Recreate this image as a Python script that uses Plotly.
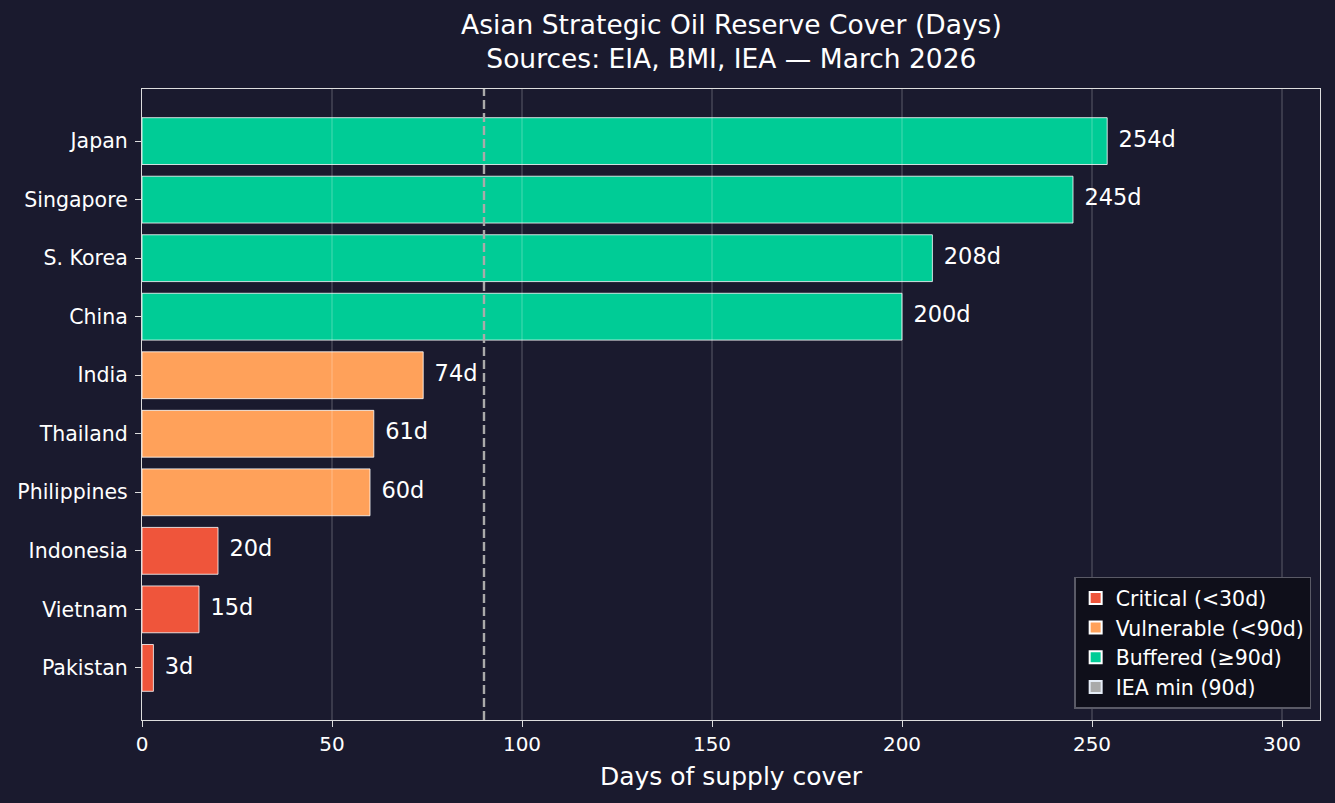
import plotly.graph_objects as go

countries = ["Japan", "Singapore", "S. Korea", "China", "India", "Thailand",
             "Philippines", "Indonesia", "Vietnam", "Pakistan"]
days = [254, 245, 208, 200, 74, 61, 60, 20, 15, 3]
iea_min = 90
x_ticks = [0, 50, 100, 150, 200, 250, 300]

groups = [
    ("Critical (<30d)", "#EF553B", lambda d: d < 30),
    ("Vulnerable (<90d)", "#FFA15A", lambda d: 30 <= d < 90),
    ("Buffered (≥90d)", "#00CC96", lambda d: d >= 90),
]

BG = "#1a1a2e"
FONT = "DejaVu Sans"

fig = go.Figure()
for name, color, cond in groups:
    ys = [c for c, d in zip(countries, days) if cond(d)]
    xs = [d for d in days if cond(d)]
    fig.add_trace(go.Bar(
        x=xs, y=ys, orientation="h", name=name, width=0.8,
        marker=dict(color=color, line=dict(color="white", width=0.8)),
        hoverinfo="x+y",
    ))

# legend-only entry for the IEA minimum line
fig.add_trace(go.Bar(
    x=[None], y=[None], orientation="h", name=f"IEA min ({iea_min}d)",
    marker=dict(color="#aaaaaa"),
))

# value labels
fig.add_trace(go.Scatter(
    x=[d + 3 for d in days], y=countries, mode="text",
    text=[f"{d}d" for d in days], textposition="middle right",
    textfont=dict(color="white", size=22.5, family=FONT),
    showlegend=False, hoverinfo="skip", cliponaxis=False,
))

# gridlines drawn above the bars (as in the reference)
for t in x_ticks[1:]:
    fig.add_shape(type="line", xref="x", yref="paper", x0=t, x1=t, y0=0, y1=1,
                  line=dict(color="rgba(255,255,255,0.22)", width=1.3), layer="above")

# IEA minimum dashed line
fig.add_shape(type="line", xref="x", yref="paper", x0=iea_min, x1=iea_min, y0=0, y1=1,
              line=dict(color="#aaaaaa", width=2.4, dash="9px,4px"), layer="above")

# title as annotation above the plot
fig.add_annotation(
    text="Asian Strategic Oil Reserve Cover (Days)<br>Sources: EIA, BMI, IEA — March 2026",
    xref="paper", yref="paper", x=0.5, y=1.0753, xanchor="center", yanchor="middle",
    showarrow=False, font=dict(size=26.5, color="white", family=FONT),
)

fig.update_layout(
    width=1335, height=803,
    paper_bgcolor=BG, plot_bgcolor=BG,
    margin=dict(l=142, r=15, t=89, b=83),
    barmode="overlay",
    font=dict(family=FONT, color="white", size=20.5),
    xaxis=dict(
        range=[0, 310], tickvals=x_ticks, ticktext=[str(t) for t in x_ticks],
        showgrid=False, zeroline=False,
        showline=True, mirror=True, linecolor="#dddddd", linewidth=1.3,
        ticks="outside", ticklen=6, tickcolor="#dddddd", tickwidth=1.3,
        tickfont=dict(size=20, color="white"),
        title=dict(text="Days of supply cover", font=dict(size=25, color="white"), standoff=12),
    ),
    yaxis=dict(
        categoryorder="array", categoryarray=countries,
        range=[9.89, -0.89], showgrid=False, zeroline=False,
        showline=True, mirror=True, linecolor="#dddddd", linewidth=1.3,
        ticks="outside", ticklen=6, tickcolor="#dddddd", tickwidth=1.3,
        ticklabelstandoff=3,
        tickfont=dict(size=20.5, color="white"),
    ),
    legend=dict(
        x=0.9925, xanchor="right", y=0.018, yanchor="bottom",
        bgcolor="#0f0f1a", bordercolor="#5a5a66", borderwidth=1.5,
        font=dict(size=20.5, color="white"), traceorder="normal",
        tracegroupgap=0, itemsizing="constant",
    ),
    showlegend=True,
)

fig.write_html("out.html")
